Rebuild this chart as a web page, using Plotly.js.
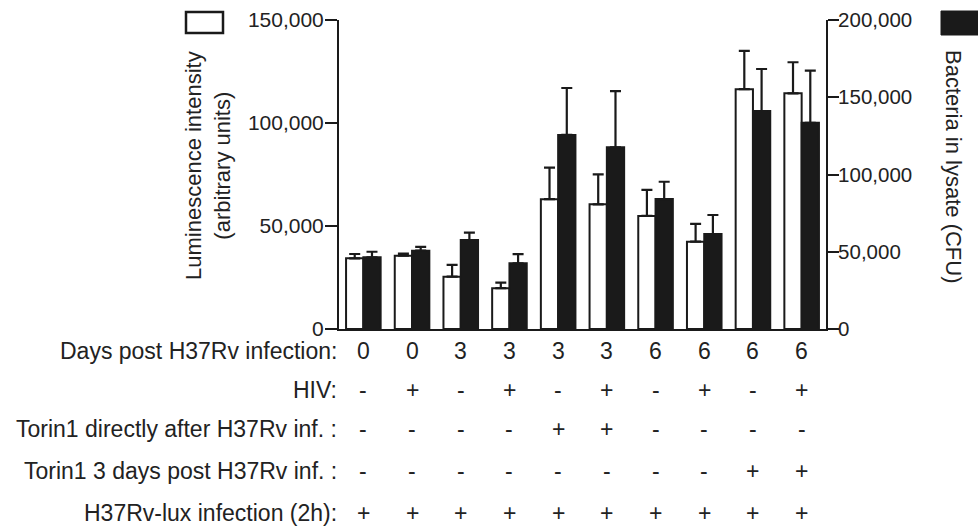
<!DOCTYPE html>
<html>
<head>
<meta charset="utf-8">
<script src="https://cdn.plot.ly/plotly-3.0.1.min.js"></script>
<style>html,body{margin:0;padding:0;background:#fff;}#chart{width:978px;height:529px;}</style>
</head>
<body>
<div id="chart"></div>
<script>
// ---- data ----
var groups = [0, 1, 2, 3, 4, 5, 6, 7, 8, 9];
var daysPost = ['0', '0', '3', '3', '3', '3', '6', '6', '6', '6'];
var hiv = ['-', '+', '-', '+', '-', '+', '-', '+', '-', '+'];
var torinDirect = ['-', '-', '-', '-', '+', '+', '-', '-', '-', '-'];
var torin3d = ['-', '-', '-', '-', '-', '-', '-', '-', '+', '+'];
var luxInfection = ['+', '+', '+', '+', '+', '+', '+', '+', '+', '+'];
var rowLabels = ['Days post H37Rv infection:', 'HIV:', 'Torin1 directly after H37Rv inf. :', 'Torin1 3 days post H37Rv inf. :', 'H37Rv-lux infection (2h):'];

var luminescence = [34300, 35600, 25400, 19800, 63000, 60500, 54900, 42400, 116400, 114400];
var luminescenceSD = [2100, 1000, 5700, 2700, 15300, 14600, 12600, 8600, 18600, 15100];
var cfu = [46400, 50700, 57600, 42500, 125600, 117600, 84100, 61500, 141100, 133500];
var cfuSD = [3600, 2400, 4800, 5900, 30400, 36300, 11200, 12300, 27200, 33700];

var leftTicks = [0, 50000, 100000, 150000];
var rightTicks = [0, 50000, 100000, 150000, 200000];

// ---- layout helpers ----
var W = 978, H = 529;
var M = {l: 339, r: 152, t: 20, b: 200};
var PW = W - M.l - M.r, PH = H - M.t - M.b;
function px2paperX(px) { return (px - M.l) / PW; }
function px2paperY(py) { return (H - M.b - py) / PH; }

var FONT = 'Liberation Sans, Arial, sans-serif';
var TXT = '#222222';
var rowPixY = [351, 390, 429, 471, 513];
var rows = [daysPost, hiv, torinDirect, torin3d, luxInfection];

var zeros = groups.map(function () { return 0; });

var traces = [
  {
    type: 'bar', x: groups, y: luminescence, yaxis: 'y', offsetgroup: '1',
    marker: {color: '#ffffff', line: {color: '#1a1a1a', width: 2}},
    error_y: {type: 'data', symmetric: false, array: luminescenceSD, arrayminus: zeros,
      color: '#1a1a1a', thickness: 2.2, width: 5.5},
    showlegend: false, hoverinfo: 'none'
  },
  {
    type: 'bar', x: groups, y: cfu, yaxis: 'y2', offsetgroup: '2',
    marker: {color: '#1a1a1a', line: {color: '#1a1a1a', width: 2}},
    error_y: {type: 'data', symmetric: false, array: cfuSD, arrayminus: zeros,
      color: '#1a1a1a', thickness: 2.2, width: 5.5},
    showlegend: false, hoverinfo: 'none'
  }
];

var annotations = [];
rows.forEach(function (vals, r) {
  annotations.push({
    xref: 'paper', yref: 'paper', x: px2paperX(339), y: px2paperY(rowPixY[r]),
    xanchor: 'right', yanchor: 'middle', showarrow: false,
    text: rowLabels[r], font: {family: FONT, size: 23, color: TXT}
  });
  vals.forEach(function (v, i) {
    annotations.push({
      xref: 'x', yref: 'paper', x: groups[i], y: px2paperY(rowPixY[r]),
      xanchor: 'center', yanchor: 'middle', showarrow: false,
      text: v, font: {family: FONT, size: 23, color: TXT}
    });
  });
});
annotations.push({
  xref: 'paper', yref: 'paper', x: px2paperX(208), y: px2paperY(166),
  xanchor: 'center', yanchor: 'middle', showarrow: false, textangle: -90,
  text: 'Luminescence intensity<br>(arbitrary units)',
  font: {family: FONT, size: 22, color: TXT}
});
annotations.push({
  xref: 'paper', yref: 'paper', x: px2paperX(954), y: px2paperY(167),
  xanchor: 'center', yanchor: 'middle', showarrow: false, textangle: 90,
  text: 'Bacteria in lysate (CFU)',
  font: {family: FONT, size: 22, color: TXT}
});

var shapes = [
  {type: 'rect', xref: 'paper', yref: 'paper',
    x0: px2paperX(186), x1: px2paperX(223), y0: px2paperY(33), y1: px2paperY(12),
    fillcolor: '#ffffff', line: {color: '#1a1a1a', width: 2.5}},
  {type: 'rect', xref: 'paper', yref: 'paper',
    x0: px2paperX(941), x1: px2paperX(985), y0: px2paperY(35), y1: px2paperY(11),
    fillcolor: '#1a1a1a', line: {color: '#1a1a1a', width: 1}}
];

var axisCommon = {
  showgrid: false, zeroline: false, showline: true, linecolor: '#1a1a1a', linewidth: 2,
  ticks: 'outside', tickcolor: '#1a1a1a', tickwidth: 2, ticklen: 12,
  tickformat: ',d', tickfont: {family: FONT, size: 21, color: TXT}, fixedrange: true
};

var layout = {
  width: W, height: H,
  margin: M,
  paper_bgcolor: '#ffffff', plot_bgcolor: '#ffffff',
  barmode: 'group', bargap: 0.29, bargroupgap: 0,
  showlegend: false,
  xaxis: {range: [-0.5, 9.5], showgrid: false, zeroline: false, showline: true,
    linecolor: '#1a1a1a', linewidth: 2, showticklabels: false, ticks: '', fixedrange: true},
  yaxis: Object.assign({}, axisCommon, {range: [0, 150000], tickvals: leftTicks, ticklabelstandoff: -3}),
  yaxis2: Object.assign({}, axisCommon, {range: [0, 200000], tickvals: rightTicks, overlaying: 'y',
    side: 'right', ticklen: 11, ticklabelstandoff: -5, tickfont: {family: FONT, size: 20.5, color: TXT}}),
  annotations: annotations,
  shapes: shapes
};

Plotly.newPlot('chart', traces, layout, {staticPlot: true, displayModeBar: false});
</script>
</body>
</html>
